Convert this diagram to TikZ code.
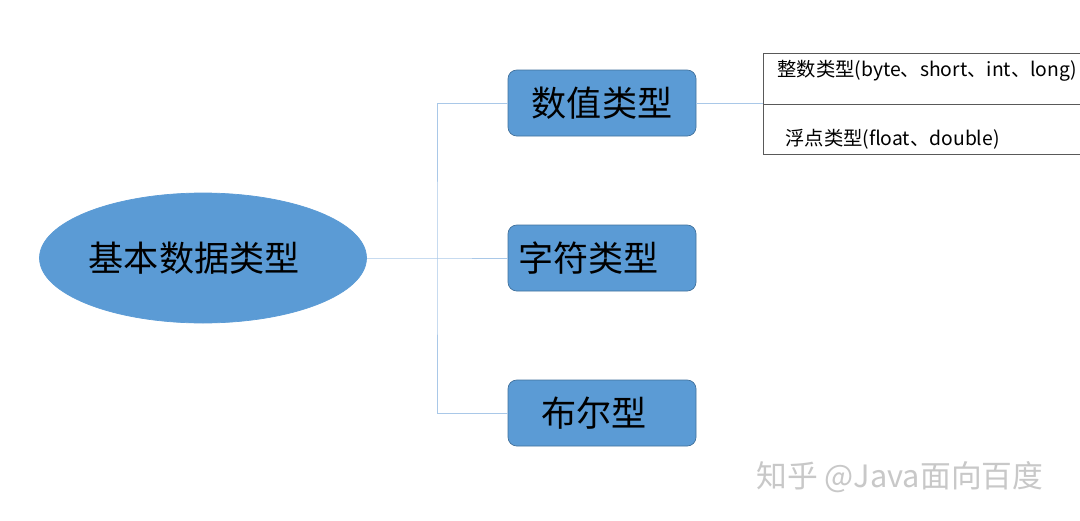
\documentclass[tikz,border=0pt]{standalone}
\usepackage{fontspec}
\setmainfont{Noto Sans CJK SC}
\newfontfamily\cjk{Noto Sans CJK SC}
\usepackage{xcolor}
\usetikzlibrary{positioning, calc, shapes.geometric}

\definecolor{boxblue}{HTML}{5B9BD5}
\definecolor{boxedge}{HTML}{41719C}
\definecolor{linkblue}{HTML}{A9C8E8}
\definecolor{markgray}{HTML}{C8C8C8}

\begin{document}
\begin{tikzpicture}[
        x=0.02cm, y=-0.02cm,
        root/.style={ellipse, fill=boxblue, draw=boxblue, minimum width=327*0.02cm, minimum height=130*0.02cm, font=\cjk\fontsize{20}{24}\selectfont},
        kind/.style={rectangle, rounded corners=5pt, fill=boxblue, draw=boxedge, thin, minimum width=188*0.02cm, minimum height=66*0.02cm, font=\cjk\fontsize{20}{24}\selectfont},
        link/.style={linkblue, thin},
        cell/.style={rectangle, draw=black!65, thin, minimum width=330*0.02cm, minimum height=50.5*0.02cm, inner sep=0pt},
        celltext/.style={anchor=west, inner sep=0pt, font=\cjk\fontsize{11}{13}\selectfont}
        ]
        \clip (0,0) rectangle (1080,521);
        \fill[white] (0,0) rectangle (1080,521);

        % Root
        \node[root] (base) at (203,258) {\hspace*{-10pt}基本数据类型};

        % Kinds
        \node[kind] (num) at (602,103) {数值类型};
        \node[kind] (char) at (602,258) {\hspace*{-15pt}字符类型};
        \node[kind] (bool) at (602,413) {\hspace*{-9pt}布尔型};

        % Links
        \coordinate (fork) at (437,258);
        \draw[link] (base.east) -- (fork) -- (char.west);
        \draw[link] (num.west) -| (fork) |- (bool.west);

        % Number table
        \node[cell, anchor=north west] (intcell) at (763,53) {};
        \node[cell, anchor=north west] (floatcell) at (763,103.5) {};
        \draw[link] (num.east) -- (num.east -| intcell.west);
        \node[celltext] (inttext) at (777,71) {整数类型(byte、short、int、long)};
        \node[celltext] (floattext) at (785,139) {浮点类型(float、double)};

        % Watermark
        \node[anchor=west, inner sep=0pt, text=markgray, font=\cjk\fontsize{17.5}{20}\selectfont] (mark) at (756,477) {知乎 @Java面向百度};
    \end{tikzpicture}
\end{document}
